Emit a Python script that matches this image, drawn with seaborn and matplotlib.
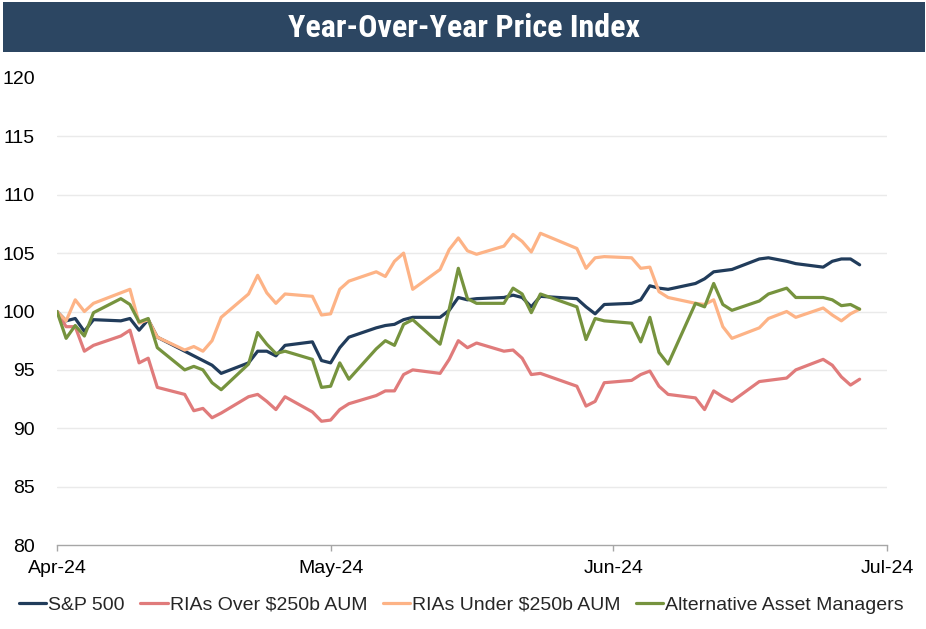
import numpy as np
import pandas as pd
import matplotlib
matplotlib.use("Agg")
import matplotlib.pyplot as plt
import matplotlib.dates as mdates
from matplotlib.patches import Rectangle
from matplotlib import font_manager
import seaborn as sns

# ---- data ----
series_names = ["S&P 500", "RIAs Over $250b AUM", "RIAs Under $250b AUM", "Alternative Asset Managers"]
holidays = ["2024-05-27", "2024-06-19"]
dates = pd.bdate_range("2024-04-01", "2024-06-28")
dates = dates[~dates.isin(pd.to_datetime(holidays))]

sp500 = [100.0, 99.2, 99.4, 98.3, 99.3, 99.2, 99.4, 98.4, 99.3, 97.8, 96.6, 96.2, 95.8, 95.4, 94.7, 95.6, 96.6, 96.6, 96.2, 97.1, 97.4, 95.8,
         95.6, 96.9, 97.8, 98.6, 98.8, 98.9, 99.3, 99.5, 99.5, 100.1, 101.2, 101.0, 101.1, 101.2, 101.4, 101.2, 100.4, 101.3, 101.1, 100.4, 99.8, 100.6,
         100.7, 101.0, 102.2, 102.0, 101.9, 102.4, 102.8, 103.4, 103.5, 103.6, 104.5, 104.6, 104.3, 104.1, 103.8, 104.3, 104.5, 104.5, 104.0]
rias_over = [100.0, 98.7, 98.7, 96.6, 97.1, 97.9, 98.4, 95.6, 96.0, 93.5, 92.9, 91.5, 91.7, 90.9, 91.3, 92.7, 92.9, 92.3, 91.6, 92.7, 91.4, 90.6,
             90.7, 91.6, 92.1, 92.8, 93.2, 93.2, 94.6, 95.0, 94.7, 95.9, 97.5, 96.9, 97.3, 96.6, 96.7, 96.0, 94.6, 94.7, 93.6, 91.9, 92.3, 93.9,
             94.1, 94.6, 94.9, 93.6, 92.9, 92.6, 91.6, 93.2, 92.7, 92.3, 94.0, 94.1, 94.3, 95.0, 95.9, 95.4, 94.4, 93.7, 94.2]
rias_under = [100.0, 99.2, 101.0, 100.0, 100.7, 101.6, 101.9, 99.0, 99.3, 97.8, 96.7, 97.0, 96.6, 97.5, 99.5, 101.5, 103.1, 101.6, 100.7, 101.5, 101.3, 99.7,
              99.8, 101.9, 102.6, 103.4, 103.0, 104.3, 105.0, 101.9, 103.6, 105.3, 106.3, 105.2, 104.9, 105.6, 106.6, 106.0, 105.1, 106.7, 105.4, 103.7, 104.6, 104.7,
              104.6, 103.7, 103.8, 101.7, 101.2, 100.7, 100.6, 101.0, 98.7, 97.7, 98.6, 99.4, 100.0, 99.5, 100.3, 99.7, 99.2, 99.8, 100.2]
alt_managers = [100.0, 97.7, 98.8, 97.9, 99.9, 101.1, 100.6, 99.1, 99.4, 96.9, 95.0, 95.3, 95.0, 93.9, 93.3, 95.5, 98.2, 97.2, 96.4, 96.6, 95.9, 93.5,
                93.6, 95.6, 94.2, 96.8, 97.5, 97.1, 98.9, 99.3, 97.2, 100.2, 103.7, 101.1, 100.7, 100.7, 102.0, 101.5, 99.9, 101.5, 100.4, 97.6, 99.4, 99.2,
                99.0, 97.4, 99.5, 96.5, 95.5, 100.7, 100.4, 102.4, 100.6, 100.1, 100.9, 101.5, 102.0, 101.2, 101.2, 101.0, 100.5, 100.6, 100.2]
y_ticks = [80, 85, 90, 95, 100, 105, 110, 115, 120]
x_ticks = ["2024-04-01", "2024-05-01", "2024-06-01", "2024-07-01"]

colors = ["#213C5B", "#E07B7B", "#FDB386", "#76933E"]

df = pd.concat([
    pd.DataFrame({"date": dates, "value": vals, "series": name})
    for name, vals in zip(series_names, [sp500, rias_over, rias_under, alt_managers])
])

# ---- plot ----
sns.set_theme(style="white")
plt.rcParams["font.family"] = ["Liberation Sans", "DejaVu Sans"]

fig = plt.figure(figsize=(9.26, 6.29), dpi=100)
W, H = 926, 629
ax = fig.add_axes([57 / W, 1 - 545 / H, (887 - 57) / W, (545 - 78) / H])

sns.lineplot(data=df, x="date", y="value", hue="series", hue_order=series_names,
             palette=colors, linewidth=2.3, ax=ax, legend=False)

ax.set_ylim(80, 120)
ax.set_xlim(pd.Timestamp(x_ticks[0]), pd.Timestamp(x_ticks[-1]))
ax.set_yticks(y_ticks)
ax.set_xticks(pd.to_datetime(x_ticks))
ax.xaxis.set_major_formatter(mdates.DateFormatter("%b-%y"))
ax.set_xlabel("")
ax.set_ylabel("")

for s in ["top", "right", "left"]:
    ax.spines[s].set_visible(False)
ax.spines["bottom"].set_color("#A6A6A6")
ax.spines["bottom"].set_linewidth(1.0)

ax.yaxis.grid(True, color="#EAEAEA", linewidth=1.0)
ax.xaxis.grid(False)
gl = ax.get_ygridlines()
gl[-1].set_visible(False)
gl[0].set_visible(False)

ax.tick_params(axis="y", length=0, pad=16, labelsize=14, labelcolor="black")
ax.tick_params(axis="x", length=4, width=1, color="#A6A6A6", pad=7, labelsize=14,
               labelcolor="black", bottom=True, direction="out")

# title font: prefer a narrow / condensed bold face if installed
names = {f.name for f in font_manager.fontManager.ttflist}
title_family = None
title_size = 20.5
for cand in ["Liberation Sans Narrow", "Arial Narrow", "DejaVu Sans Condensed", "Roboto Condensed", "Open Sans Condensed"]:
    if cand in names:
        title_family = cand
        title_size = 23
        break
if title_family is None:
    title_family = "Liberation Sans"

# title bar
fig.patches.append(Rectangle((3 / W, 1 - 52 / H), (925 - 3) / W, (52 - 2) / H,
                             transform=fig.transFigure, facecolor="#2C4662",
                             edgecolor="none", zorder=0))
fig.text((3 + 925) / 2 / W, 1 - 28 / H, "Year-Over-Year Price Index", color="white",
         fontsize=title_size, fontweight="bold", ha="center", va="center",
         family=[title_family, "Liberation Sans"])

# legend
handles = [plt.Line2D([], [], color=c, linewidth=2.3) for c in colors]
fig.legend(handles, series_names, loc="center", bbox_to_anchor=((15 + 908) / 2 / W, 1 - 605 / H),
           ncol=4, frameon=False, fontsize=14, handlelength=1.4, handletextpad=0.1,
           columnspacing=0.8, borderaxespad=0, borderpad=0)

fig.savefig("out.png", dpi=100)
